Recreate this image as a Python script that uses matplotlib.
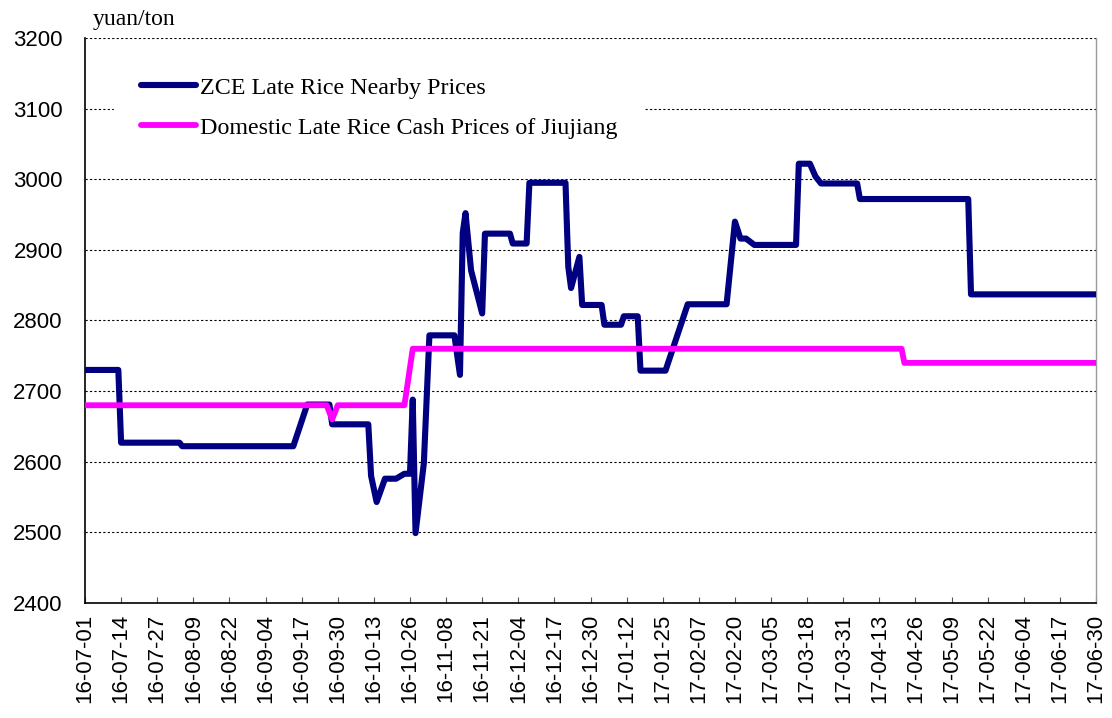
import matplotlib
matplotlib.use("Agg")
import matplotlib.pyplot as plt
import matplotlib.dates as mdates
import pandas as pd

# ZCE late rice nearby prices (yuan/ton)
zce_dates = ['2016-07-01', '2016-07-13', '2016-07-14', '2016-08-04', '2016-08-05',
             '2016-09-14', '2016-09-19', '2016-09-27', '2016-09-28', '2016-10-11',
             '2016-10-12', '2016-10-14', '2016-10-17', '2016-10-21', '2016-10-24',
             '2016-10-26', '2016-10-27', '2016-10-28', '2016-10-31', '2016-11-02',
             '2016-11-11', '2016-11-13', '2016-11-14', '2016-11-15', '2016-11-17',
             '2016-11-21', '2016-11-22', '2016-12-01', '2016-12-02', '2016-12-07',
             '2016-12-08', '2016-12-21', '2016-12-22', '2016-12-23', '2016-12-26',
             '2016-12-27', '2017-01-03', '2017-01-04', '2017-01-10', '2017-01-11',
             '2017-01-16', '2017-01-17', '2017-01-26', '2017-02-03', '2017-02-17',
             '2017-02-20', '2017-02-22', '2017-02-24', '2017-02-27', '2017-03-14',
             '2017-03-15', '2017-03-19', '2017-03-21', '2017-03-23', '2017-04-05',
             '2017-04-06', '2017-05-15', '2017-05-16', '2017-06-30']
zce_values = [2730, 2730, 2627, 2627, 2622,
              2622, 2681, 2681, 2653, 2653,
              2580, 2543, 2576, 2576, 2583,
              2583, 2688, 2499, 2598, 2779,
              2779, 2723, 2924, 2952, 2871,
              2810, 2923, 2923, 2909, 2909,
              2995, 2995, 2876, 2846, 2890,
              2822, 2822, 2794, 2794, 2806,
              2806, 2729, 2729, 2823, 2823,
              2940, 2916, 2916, 2907, 2907,
              3022, 3022, 3004, 2994, 2994,
              2972, 2972, 2837, 2837]

# Jiujiang cash prices
cash_dates = ['2016-07-01', '2016-09-26', '2016-09-28', '2016-09-30', '2016-10-24',
              '2016-10-27', '2017-04-21', '2017-04-22', '2017-06-30']
cash_values = [2680, 2680, 2660, 2680, 2680, 2760, 2760, 2740, 2740]

y_ticks = [2400, 2500, 2600, 2700, 2800, 2900, 3000, 3100, 3200]

fig = plt.figure(figsize=(11.12, 7.18), dpi=100)
ax = fig.add_axes([85 / 1112, 1 - 603 / 718, 1011 / 1112, 565 / 718])

ax.plot(pd.to_datetime(zce_dates), zce_values, color='#000080', lw=4.4,
        solid_joinstyle='round', solid_capstyle='round', zorder=3,
        label='ZCE Late Rice Nearby Prices')
ax.plot(pd.to_datetime(cash_dates), cash_values, color='#FF00FF', lw=4.2,
        solid_joinstyle='round', solid_capstyle='round', zorder=4,
        label='Domestic Late Rice Cash Prices of Jiujiang')

#-----axes limits and ticks-----
ax.set_xlim(pd.Timestamp('2016-07-01'), pd.Timestamp('2017-06-30'))
ax.set_ylim(2400, 3200)
ax.set_yticks(y_ticks)
ax.set_xticks(pd.date_range('2016-07-01', '2017-06-30', freq='13D'))
ax.xaxis.set_major_formatter(mdates.DateFormatter('%y-%m-%d'))
for lbl in ax.get_xticklabels():
    lbl.set_rotation(90)
ax.tick_params(axis='x', direction='in', length=4.5, width=0.8, color='#555555',
               pad=8, labelsize=16)
ax.tick_params(axis='y', length=0, pad=16, labelsize=16)
for lbl in ax.get_xticklabels() + ax.get_yticklabels():
    lbl.set_fontfamily('Liberation Sans')

ax.grid(axis='y', color='black', linestyle=(0, (2, 2)), linewidth=0.8, zorder=1)
ax.set_axisbelow(True)
ax.spines['top'].set_visible(False)
ax.spines['right'].set_color('#999999')
ax.spines['right'].set_linewidth(1)
ax.spines['left'].set_linewidth(1.2)
ax.spines['bottom'].set_linewidth(1.2)

#-----legend-----
leg = ax.legend(loc='upper left', bbox_to_anchor=(0.029, 0.978), borderaxespad=0,
                frameon=True, fancybox=False, edgecolor='white', framealpha=1,
                prop={'family': 'Liberation Serif', 'size': 17.3},
                handlelength=2.3, handletextpad=0.15, labelspacing=0.75,
                borderpad=1.1)
leg.set_zorder(5)

fig.text(93 / 1112, 1 - 25 / 718, 'yuan/ton', family='Liberation Serif', fontsize=17)

fig.savefig('out.png', dpi=100)
